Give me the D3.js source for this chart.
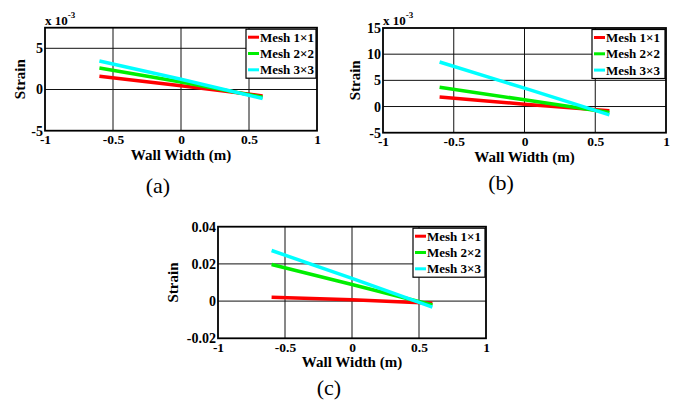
<!DOCTYPE html>
<html>
<head>
<meta charset="utf-8">
<script src="https://cdn.jsdelivr.net/npm/d3@7"></script>
<style>
  body { margin: 0; background: #fff; }
  svg { display: block; }
  text { font-family: "Liberation Serif", "Times New Roman", serif; }
</style>
</head>
<body>
<script>
// wall width positions of the sampled points (m)
const wallX = [-0.6, 0, 0.6];
const meshNames = ["Mesh 1\u00d71", "Mesh 2\u00d72", "Mesh 3\u00d73"];

// panel (a), strain in units of 10^-3
const strainA1 = [1.6, 0.45, -0.78];
const strainA2 = [2.6, 0.9, -0.94];
const strainA3 = [3.45, 1.25, -1.1];
// panel (b), strain in units of 10^-3
const strainB1 = [1.8, 0.45, -0.82];
const strainB2 = [3.7, 1.28, -1.15];
const strainB3 = [8.5, 3.5, -1.6];
// panel (c), strain
const strainC1 = [0.0021, 0.0007, -0.0012];
const strainC2 = [0.0197, 0.0089, -0.0021];
const strainC3 = [0.0272, 0.0122, -0.0032];

// tick labels
const xTicks = [-1, -0.5, 0, 0.5, 1];
const yTicksA = [-5, 0, 5];
const yTicksB = [-5, 0, 5, 10, 15];
const yTicksC = [-0.02, 0, 0.02, 0.04];

const colors = ["#ff0000", "#00ee00", "#00ffff"];

const svg = d3.select("body").append("svg")
    .attr("width", 680)
    .attr("height", 403);

const drawPanel = (p) => {
    const w = p.right - p.left,
        h = p.bottom - p.top;

    const x = d3.scaleLinear().domain([-1, 1]).range([0, w]);
    const y = d3.scaleLinear().domain(p.yDomain).range([h, 0]);

    const g = svg.append("g")
        .attr("transform", "translate(" + p.left + "," + p.top + ")");

    // grid lines
    g.append("g").selectAll("line")
        .data(xTicks.slice(1, -1))
        .enter().append("line")
        .attr("x1", d => x(d)).attr("x2", d => x(d))
        .attr("y1", 0).attr("y2", h)
        .attr("stroke", "#111").attr("stroke-width", 1);
    g.append("g").selectAll("line")
        .data(p.yTicks.filter(d => d > p.yDomain[0] && d < p.yDomain[1]))
        .enter().append("line")
        .attr("x1", 0).attr("x2", w)
        .attr("y1", d => y(d)).attr("y2", d => y(d))
        .attr("stroke", "#111").attr("stroke-width", 1);

    // series lines
    const line = d3.line()
        .x((d, i) => x(wallX[i]))
        .y(d => y(d));
    p.series.forEach((s, i) => {
        g.append("path")
            .datum(s)
            .attr("fill", "none")
            .attr("stroke", colors[i])
            .attr("stroke-width", 3.5)
            .attr("d", line);
    });

    // frame
    g.append("rect")
        .attr("width", w).attr("height", h)
        .attr("fill", "none")
        .attr("stroke", "#000").attr("stroke-width", 1.8);

    // tick labels
    const xAxis = g.append("g")
        .attr("transform", "translate(0," + h + ")")
        .call(d3.axisBottom(x).tickValues(xTicks).tickSize(0).tickPadding(4).tickFormat(d => String(d)));
    xAxis.select(".domain").remove();
    xAxis.selectAll("text")
        .attr("fill", "#000")
        .style("font-family", "'Liberation Serif', serif")
        .style("font-weight", "bold")
        .style("font-size", "13.5px");

    const yAxis = g.append("g")
        .call(d3.axisLeft(y).tickValues(p.yTicks).tickSize(0).tickPadding(2).tickFormat(d => String(d)));
    yAxis.select(".domain").remove();
    yAxis.selectAll("text")
        .attr("fill", "#000")
        .style("font-family", "'Liberation Serif', serif")
        .style("font-weight", "bold")
        .style("font-size", "14px");

    // multiplier
    if (p.exponent) {
        const t = g.append("text")
            .attr("x", 0).attr("y", -3)
            .style("font-weight", "bold").style("font-size", "13px");
        t.append("tspan").text("x 10");
        t.append("tspan").attr("dy", -7).style("font-size", "9px").text("-3");
    }

    // axis titles
    g.append("text")
        .attr("x", w / 2).attr("y", h + 29)
        .attr("text-anchor", "middle")
        .style("font-weight", "bold").style("font-size", "15px")
        .text("Wall Width (m)");
    g.append("text")
        .attr("transform", "translate(" + (p.ylabelX - p.left) + "," + (h / 2) + ") rotate(-90)")
        .attr("text-anchor", "middle")
        .attr("dy", "0.35em")
        .style("font-weight", "bold").style("font-size", "15px")
        .text("Strain");

    // legend
    const lw = p.legendW, lh = 49, row = 16.3;
    const lg = g.append("g")
        .attr("transform", "translate(" + (w - lw - 1) + ",1.5)");
    lg.append("rect")
        .attr("width", lw).attr("height", lh)
        .attr("fill", "#fff")
        .attr("stroke", "#000").attr("stroke-width", 1.2);
    meshNames.forEach((name, i) => {
        const cy = 8 + i * row;
        lg.append("line")
            .attr("x1", 2).attr("x2", 13)
            .attr("y1", cy).attr("y2", cy)
            .attr("stroke", colors[i]).attr("stroke-width", 3);
        lg.append("text")
            .attr("x", 14).attr("y", cy)
            .attr("dy", "0.35em")
            .style("font-weight", "bold").style("font-size", "13px")
            .text(name);
    });

    // caption
    svg.append("text")
        .attr("x", p.captionX).attr("y", p.captionY)
        .attr("text-anchor", "middle")
        .style("font-size", "22px")
        .text(p.caption);
};

drawPanel({
    left: 45, right: 317, top: 27.7, bottom: 130.7,
    yDomain: [-5, 7.5], yTicks: yTicksA,
    series: [strainA1, strainA2, strainA3],
    exponent: true, ylabelX: 20, legendW: 70,
    caption: "(a)", captionX: 158, captionY: 193
});
drawPanel({
    left: 383, right: 666, top: 28, bottom: 132.7,
    yDomain: [-5, 15], yTicks: yTicksB,
    series: [strainB1, strainB2, strainB3],
    exponent: true, ylabelX: 355, legendW: 73,
    caption: "(b)", captionX: 501, captionY: 190
});
drawPanel({
    left: 218, right: 486, top: 226.7, bottom: 338.3,
    yDomain: [-0.02, 0.04], yTicks: yTicksC,
    series: [strainC1, strainC2, strainC3],
    exponent: false, ylabelX: 173, legendW: 72,
    caption: "(c)", captionX: 329, captionY: 395
});
</script>
</body>
</html>
